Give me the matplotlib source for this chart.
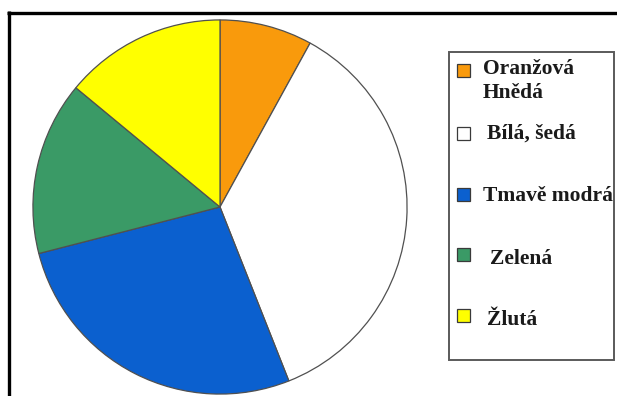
import matplotlib
matplotlib.use("Agg")
import matplotlib.pyplot as plt
from matplotlib.patches import Rectangle

# Share of each colour (percent), clockwise from 12 o'clock
categories = ["Oranžová\nHnědá", "Bílá, šedá", "Tmavě modrá", "Zelená", "Žlutá"]
shares = [8, 36, 27, 15, 14]
colors = ["#F99A0C", "#FFFFFF", "#0B60CF", "#3A9A66", "#FFFF00"]

W, H = 617, 396
fig = plt.figure(figsize=(W / 100, H / 100), dpi=100)
fig.patch.set_facecolor("white")

# Pie axes: square box centred at (220, 207) px with 188 px radius
cx, cy, r = 220, 207, 188
ax = fig.add_axes([(cx - r) / W, (H - cy - r) / H, 2 * r / W, 2 * r / H])
ax.pie(shares, colors=colors, startangle=90, counterclock=False, radius=1,
       wedgeprops=dict(edgecolor="#505050", linewidth=0.9))
ax.set_xlim(-1.005, 1.005)
ax.set_ylim(-1.005, 1.005)
ax.set_aspect("equal")
ax.axis("off")

# Overlay in pixel coordinates for frame and legend
ov = fig.add_axes([0, 0, 1, 1], zorder=5)
ov.set_xlim(0, W)
ov.set_ylim(H, 0)
ov.axis("off")
ov.patch.set_alpha(0)

# Heavy frame along top and left
ov.plot([7, W], [12.5, 12.5], color="black", lw=2.4, solid_capstyle="butt")
ov.plot([8.5, 8.5], [11, H], color="black", lw=2.4, solid_capstyle="butt")

# Legend box
ov.add_patch(Rectangle((449, 52), 165, 308, facecolor="white",
                       edgecolor="#5a5a5a", lw=1.4))

swatch_y = [70, 133, 194, 254, 315]
text_x = [483, 487, 483, 490, 487]
text_base = [74, 139, 201, 264, 325]
font = dict(family="Liberation Serif", weight="bold", fontsize=15.5,
            color="#1a1a1a")
for cat, col, sy, tx, tb in zip(categories, colors, swatch_y, text_x, text_base):
    ov.add_patch(Rectangle((457, sy - 6.5), 13, 13, facecolor=col,
                           edgecolor="#3a3a3a", lw=0.9))
    lines = cat.split("\n")
    for i, line in enumerate(lines):
        ov.text(tx, tb + i * 24, line, ha="left", va="baseline", **font)

fig.savefig("out.png", dpi=100)
